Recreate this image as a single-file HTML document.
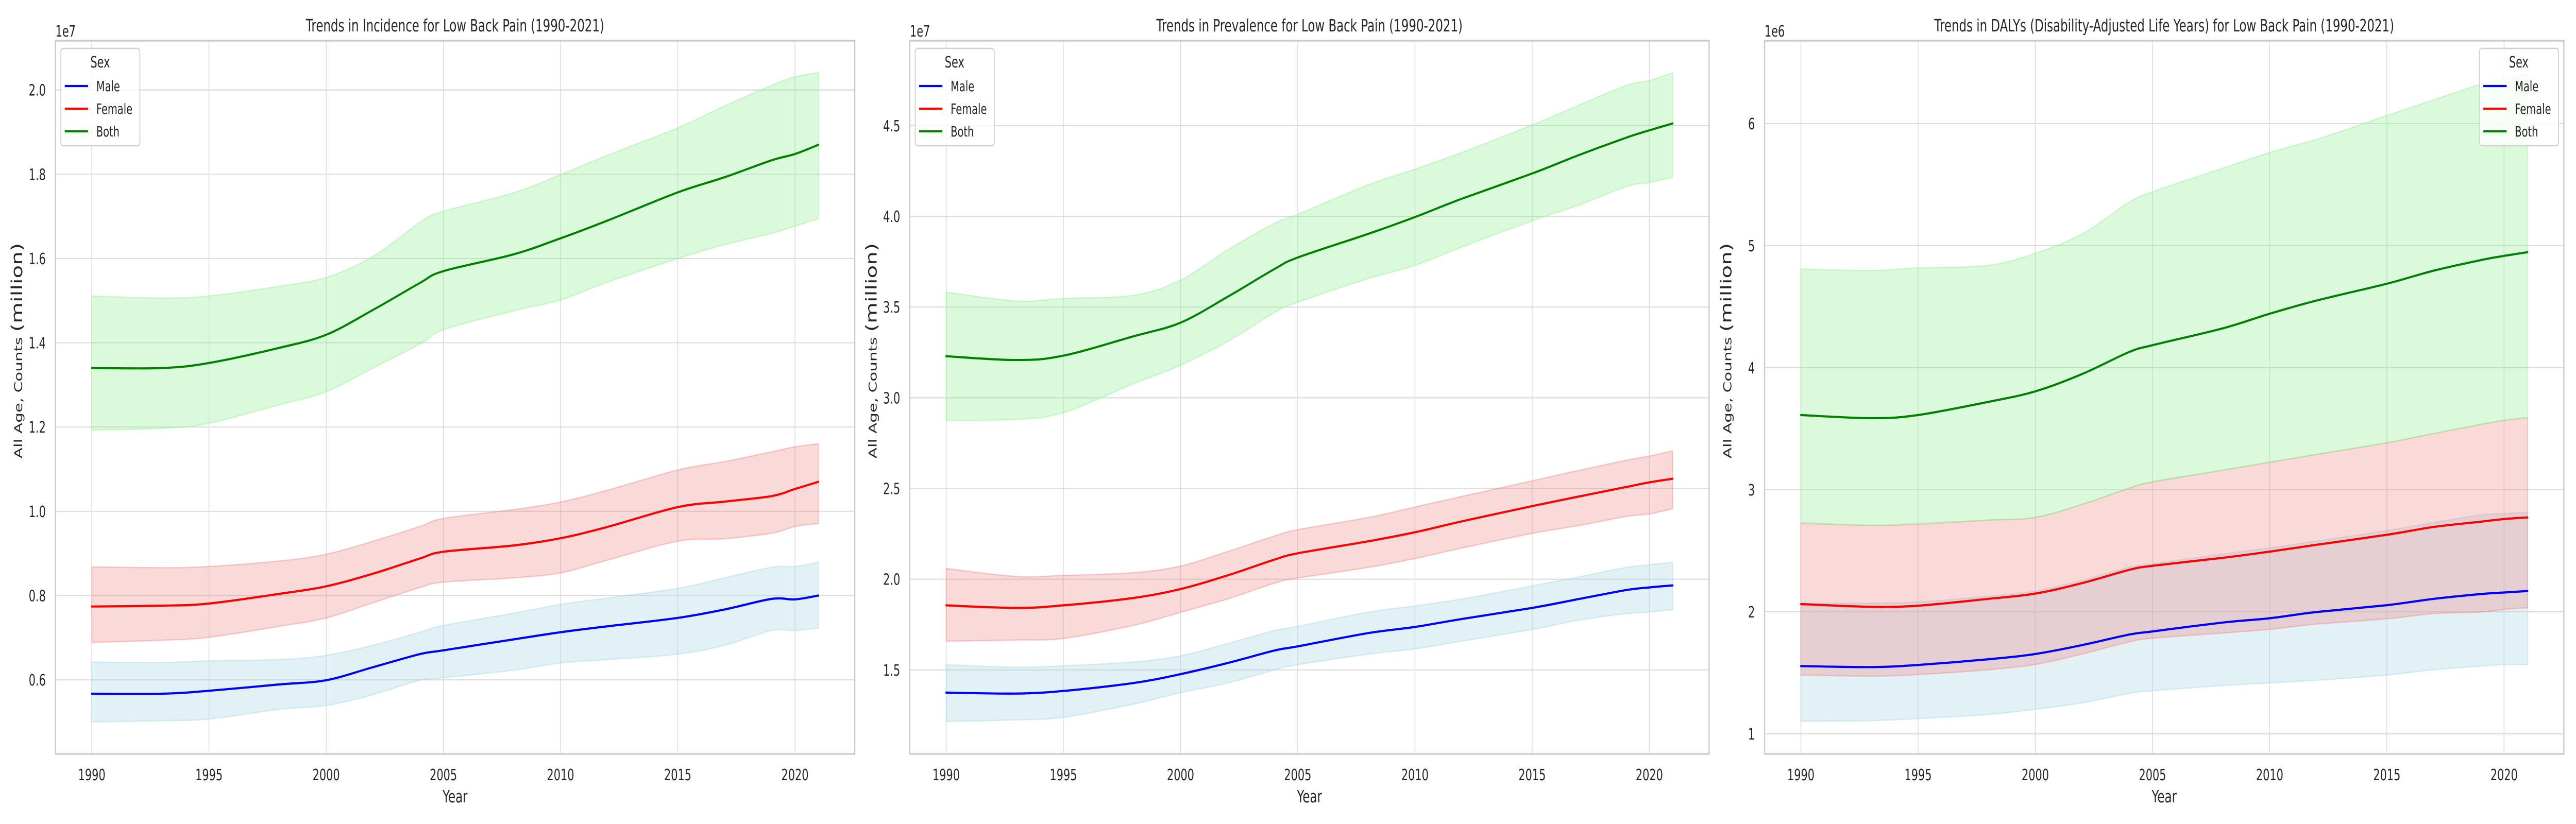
<!DOCTYPE html>
<html><head><meta charset="utf-8"><style>
html,body{margin:0;padding:0;background:#fff;width:100%;height:100%;overflow:hidden}
svg{display:block;width:100vw;height:100vh;font-family:"DejaVu Sans","Liberation Sans",sans-serif}
</style></head><body>
<svg id="fig" viewBox="0 0 7200 1600" preserveAspectRatio="none" xmlns="http://www.w3.org/2000/svg">
<rect width="7200" height="1600" fill="#ffffff"/>
</svg>
<script>
const years = [1990,1993,1995,1998,2000,2002,2004,2005,2008,2010,2012,2015,2017,2019,2020,2021];

// Panel 1: Incidence (x1e7)
const incBoth  = [1.340,1.340,1.352,1.388,1.419,1.478,1.542,1.570,1.610,1.648,1.690,1.757,1.793,1.833,1.848,1.870];
const incBothU = [1.511,1.506,1.511,1.534,1.555,1.605,1.686,1.712,1.756,1.799,1.845,1.910,1.962,2.011,2.031,2.041];
const incBothL = [1.193,1.197,1.209,1.253,1.284,1.340,1.397,1.431,1.476,1.502,1.544,1.600,1.633,1.660,1.677,1.695];
const incFem   = [0.774,0.776,0.781,0.804,0.822,0.852,0.888,0.904,0.919,0.936,0.963,1.010,1.023,1.036,1.053,1.070];
const incFemU  = [0.868,0.866,0.869,0.882,0.898,0.929,0.964,0.983,1.004,1.022,1.050,1.098,1.118,1.141,1.153,1.160];
const incFemL  = [0.689,0.694,0.701,0.727,0.747,0.783,0.819,0.832,0.842,0.854,0.884,0.929,0.935,0.948,0.964,0.971];
const incMale  = [0.567,0.567,0.574,0.589,0.599,0.630,0.661,0.670,0.696,0.713,0.727,0.747,0.767,0.792,0.791,0.800];
const incMaleU = [0.642,0.641,0.645,0.648,0.658,0.682,0.713,0.729,0.758,0.779,0.794,0.817,0.842,0.867,0.869,0.879];
const incMaleL = [0.500,0.503,0.507,0.530,0.539,0.565,0.599,0.605,0.623,0.640,0.648,0.661,0.682,0.717,0.717,0.723];

// Panel 2: Prevalence (x1e7)
const prvBoth  = [3.229,3.208,3.232,3.339,3.414,3.556,3.709,3.773,3.903,3.996,4.097,4.236,4.338,4.433,4.474,4.512];
const prvBothU = [3.582,3.533,3.547,3.565,3.649,3.814,3.961,4.011,4.173,4.260,4.352,4.503,4.613,4.720,4.749,4.790];
const prvBothL = [2.875,2.881,2.919,3.078,3.180,3.310,3.469,3.527,3.657,3.730,3.831,3.976,4.063,4.164,4.187,4.216];
const prvFem   = [1.856,1.842,1.856,1.897,1.946,2.021,2.108,2.143,2.209,2.259,2.319,2.403,2.456,2.508,2.534,2.554];
const prvFemU  = [2.059,2.015,2.021,2.036,2.073,2.152,2.238,2.273,2.340,2.398,2.456,2.542,2.600,2.655,2.679,2.707];
const prvFemL  = [1.659,1.665,1.674,1.746,1.818,1.891,1.978,2.007,2.065,2.114,2.172,2.253,2.296,2.346,2.360,2.389];
const prvMale  = [1.375,1.370,1.384,1.428,1.477,1.538,1.607,1.630,1.703,1.737,1.781,1.842,1.891,1.940,1.955,1.966];
const prvMaleU = [1.529,1.515,1.523,1.544,1.578,1.645,1.717,1.740,1.818,1.853,1.891,1.963,2.013,2.065,2.079,2.094];
const prvMaleL = [1.216,1.225,1.239,1.312,1.375,1.428,1.500,1.529,1.587,1.616,1.659,1.723,1.775,1.810,1.819,1.833];

// Panel 3: DALYs (x1e6)
const dalBoth  = [3.612,3.586,3.612,3.720,3.806,3.948,4.128,4.184,4.322,4.442,4.550,4.688,4.795,4.881,4.916,4.946];
const dalBothU = [4.808,4.795,4.817,4.838,4.937,5.096,5.355,5.441,5.634,5.763,5.871,6.065,6.194,6.323,6.366,6.409];
const dalBothL = [2.730,2.708,2.725,2.751,2.773,2.880,3.009,3.061,3.160,3.225,3.289,3.384,3.461,3.534,3.569,3.590];
const dalFem   = [2.063,2.041,2.050,2.106,2.149,2.235,2.343,2.377,2.442,2.493,2.549,2.631,2.695,2.738,2.760,2.773];
const dalFemU  = [2.725,2.708,2.717,2.751,2.773,2.880,3.013,3.065,3.160,3.225,3.289,3.384,3.461,3.534,3.569,3.590];
const dalFemL  = [1.482,1.473,1.486,1.525,1.568,1.654,1.753,1.783,1.826,1.856,1.899,1.942,1.985,1.998,2.020,2.033];
const dalMale  = [1.555,1.547,1.564,1.611,1.654,1.727,1.813,1.839,1.912,1.947,1.998,2.054,2.106,2.145,2.158,2.170];
const dalMaleU = [2.071,2.071,2.080,2.127,2.170,2.257,2.364,2.394,2.472,2.523,2.579,2.665,2.730,2.794,2.803,2.816];
const dalMaleL = [1.103,1.108,1.125,1.159,1.202,1.254,1.331,1.353,1.396,1.417,1.439,1.482,1.525,1.555,1.568,1.568];

const xTicks = [1990,1995,2000,2005,2010,2015,2020];
const incTicks = [0.6,0.8,1.0,1.2,1.4,1.6,1.8,2.0];
const incTickLabels = ["0.6","0.8","1.0","1.2","1.4","1.6","1.8","2.0"];
const prvTicks = [1.5,2.0,2.5,3.0,3.5,4.0,4.5];
const prvTickLabels = ["1.5","2.0","2.5","3.0","3.5","4.0","4.5"];
const dalTicks = [1,2,3,4,5,6];
const dalTickLabels = ["1","2","3","4","5","6"];
const legendLabels = ["Male","Female","Both"];

const NS = "http://www.w3.org/2000/svg";
const svg = document.getElementById('fig');
function mk(tag, attrs, parent){
  const e = document.createElementNS(NS, tag);
  for (const k in attrs) e.setAttribute(k, attrs[k]);
  (parent||svg).appendChild(e);
  return e;
}
function smoothPath(pts, move){
  let d = (move ? "M" : "L") + pts[0][0].toFixed(1) + "," + pts[0][1].toFixed(1);
  for (let i=0;i<pts.length-1;i++){
    const p0 = pts[Math.max(0,i-1)], p1 = pts[i], p2 = pts[i+1], p3 = pts[Math.min(pts.length-1,i+2)];
    const c1x = p1[0]+(p2[0]-p0[0])/6, c1y = p1[1]+(p2[1]-p0[1])/6;
    const c2x = p2[0]-(p3[0]-p1[0])/6, c2y = p2[1]-(p3[1]-p1[1])/6;
    d += " C"+c1x.toFixed(1)+","+c1y.toFixed(1)+" "+c2x.toFixed(1)+","+c2y.toFixed(1)+" "+p2[0].toFixed(1)+","+p2[1].toFixed(1);
  }
  return d;
}

function drawPanel(cfg){
  const L=cfg.left, R=cfg.right, T=79, B=1464;
  const x0=1988.45, x1=2022.55;
  const xs = v => L + (v-x0)/(x1-x0)*(R-L);
  const ys = v => B - (v-cfg.ymin)/(cfg.ymax-cfg.ymin)*(B-T);
  const g = mk('g', {});
  
  
  xTicks.forEach(t=>{
    const l = mk('line',{x1:xs(t),x2:xs(t),y1:T,y2:B,stroke:'#dcdcdc','stroke-width':2.2},g);
    
    
    const tx = mk('text',{x:xs(t),y:1515,'font-size':30,fill:'#262626','text-anchor':'middle'},g);
    tx.textContent = t;
    
    
  });
  cfg.ticks.forEach((t,i)=>{
    const l = mk('line',{x1:L,x2:R,y1:ys(t),y2:ys(t),stroke:'#dcdcdc','stroke-width':2.2},g);
    
    
    const tx = mk('text',{x:L-27,y:ys(t)+11,'font-size':30,fill:'#262626','text-anchor':'end'},g);
    tx.textContent = cfg.tickLabels[i];
    
    
  });
  const series = [
    {c:'blue', f:'#add8e6', fa:0.36, v:cfg.male, u:cfg.maleU, l:cfg.maleL, n:'male'},
    {c:'red', f:'#f08080', fa:0.30, v:cfg.fem, u:cfg.femU, l:cfg.femL, n:'female'},
    {c:'#008000', f:'#90ee90', fa:0.32, v:cfg.both, u:cfg.bothU, l:cfg.bothL, n:'both'}
  ];
  series.forEach(s=>{
    const up = years.map((y,i)=>[xs(y),ys(s.u[i])]);
    const lo = years.map((y,i)=>[xs(y),ys(s.l[i])]).reverse();
    const d = smoothPath(up,true) + " " + smoothPath(lo,false) + " Z";
    const band = mk('path',{d:d,fill:s.f,'fill-opacity':s.fa,stroke:s.f,'stroke-opacity':s.fa+0.1,'stroke-width':2.5},g);
    
    
  });
  series.forEach(s=>{
    const pts = years.map((y,i)=>[xs(y),ys(s.v[i])]);
    const line = mk('path',{d:smoothPath(pts,true),fill:'none',stroke:s.c,'stroke-width':4.2,'stroke-linecap':'round'},g);
    
    
  });
  const sp = mk('rect',{x:L,y:T,width:R-L,height:B-T,fill:'none',stroke:'#cccccc','stroke-width':3.5},g);
  
  
  const ti = mk('text',{x:(L+R)/2,y:61,'font-size':33,fill:'#262626','text-anchor':'middle'},g);
  ti.textContent = cfg.title;
  
  
  const off = mk('text',{x:L,y:71,'font-size':30,fill:'#262626'},g);
  off.textContent = cfg.offset;
  
  
  const xl = mk('text',{x:(L+R)/2,y:1558,'font-size':33,fill:'#262626','text-anchor':'middle'},g);
  xl.textContent = 'Year';
  
  
  const yl = mk('text',{x:0,y:0,'font-size':33,fill:'#262626','text-anchor':'middle',transform:'translate('+(L-93)+',681) rotate(-90)'},g);
  
  
  const t1 = mk('tspan',{'font-size':31},yl); t1.textContent = 'All Age, Counts ';
  const t2 = mk('tspan',{'font-size':42},yl); t2.textContent = '(million)';
  const lg = mk('g',{},g);
  
  
  const lx = cfg.legendRight ? R-15-221 : L+15;
  const bx = mk('rect',{x:lx,y:94,width:221,height:189,rx:7,fill:'#ffffff','fill-opacity':0.8,stroke:'#d0d0d0','stroke-width':2.5},lg);
  
  
  const lt = mk('text',{x:lx+110,y:131,'font-size':30,fill:'#262626','text-anchor':'middle'},lg);
  lt.textContent = 'Sex';
  
  
  series.forEach((s,i)=>{
    const yy = 167 + i*44;
    const ln = mk('line',{x1:lx+11,x2:lx+76,y1:yy,y2:yy,stroke:s.c,'stroke-width':4.2},lg);
    
    
    const tx = mk('text',{x:lx+99,y:yy+10,'font-size':28,fill:'#262626'},lg);
    tx.textContent = legendLabels[i];
    
    
  });
}

drawPanel({name:'incidence-chart',left:155,right:2389,ymin:0.424,ymax:2.117,ticks:incTicks,tickLabels:incTickLabels,offset:'1e7',
  title:'Trends in Incidence for Low Back Pain (1990-2021)',
  both:incBoth,bothU:incBothU,bothL:incBothL,fem:incFem,femU:incFemU,femL:incFemL,male:incMale,maleU:incMaleU,maleL:incMaleL});
drawPanel({name:'prevalence-chart',left:2543,right:4777,ymin:1.037,ymax:4.968,ticks:prvTicks,tickLabels:prvTickLabels,offset:'1e7',
  title:'Trends in Prevalence for Low Back Pain (1990-2021)',
  both:prvBoth,bothU:prvBothU,bothL:prvBothL,fem:prvFem,femU:prvFemU,femL:prvFemL,male:prvMale,maleU:prvMaleU,maleL:prvMaleL});
drawPanel({name:'dalys-chart',left:4932,right:7166,ymin:0.835,ymax:6.679,ticks:dalTicks,tickLabels:dalTickLabels,offset:'1e6',legendRight:true,
  title:'Trends in DALYs (Disability-Adjusted Life Years) for Low Back Pain (1990-2021)',
  both:dalBoth,bothU:dalBothU,bothL:dalBothL,fem:dalFem,femU:dalFemU,femL:dalFemL,male:dalMale,maleU:dalMaleU,maleL:dalMaleL});
</script>
</body></html>
